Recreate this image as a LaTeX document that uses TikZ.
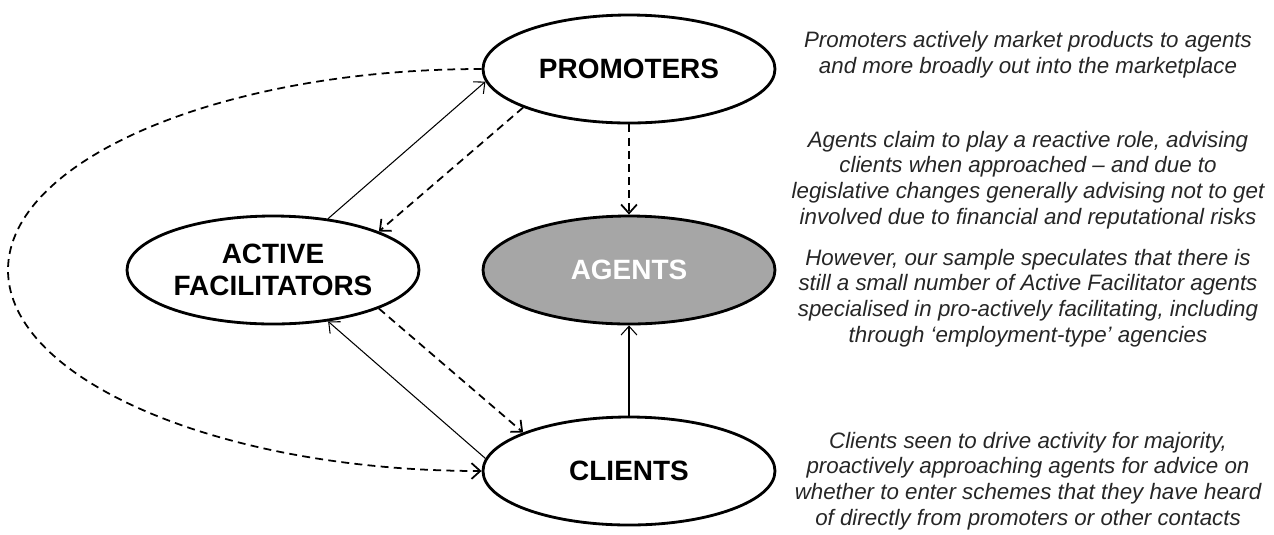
\documentclass[tikz,border=0pt]{standalone}
\usepackage{fontspec}
\setmainfont{Liberation Sans}
\usetikzlibrary{shapes.geometric,arrows.meta}
\definecolor{agentgray}{HTML}{A6A6A6}

\begin{document}
\begin{tikzpicture}[x=0.2mm,y=-0.2mm,
  actor/.style={draw,ellipse,line width=1.6pt,minimum width=5.84cm,minimum height=2.16cm,inner sep=0pt,align=center,font=\fontsize{15.9}{18}\selectfont\bfseries},
  note/.style={align=center,inner sep=0pt,text=black!85,font=\fontsize{12.7}{14.6}\selectfont\itshape},
  flow/.style={-{Straight Barb[length=5pt,width=9pt]},line width=0.6pt},
  hint/.style={flow,line width=1pt,dash pattern=on 4.5pt off 3pt}]
\useasboundingbox (0,0) rectangle (1274,534);
% the four parties
\node[actor] (prom) at (629,69) {PROMOTERS};
\node[actor,fill=agentgray,text=white] (agent) at (629,270) {AGENTS};
\node[actor] (client) at (629,471) {CLIENTS};
\node[actor] (facil) at (273,270) {ACTIVE\\FACILITATORS};
% links between them
\draw[hint] (prom) -- (agent);
\draw[flow] (client) -- (agent);
\draw[flow] (facil.43) -- (prom.185);
\draw[hint] (prom.200) -- (facil.20);
\draw[hint] (facil.-20) -- (client.160);
\draw[flow] (client.175) -- (facil.-43);
% wide loop round the left side
\coordinate (far) at (8,270);
\draw[hint] (prom.west) .. controls (221,69) and (8,160) .. (far) .. controls (8,380) and (221,471) .. (client.west);
% notes on the right
\node[note] (promnote) at (1028,55) {Promoters actively market products to agents\\and more broadly out into the marketplace};
\node[note] (agentnote) at (1028,180) {Agents claim to play a reactive role, advising\\clients when approached -- and due to\\legislative changes generally advising not to get\\involved due to financial and reputational risks};
\node[note] (facilnote) at (1028,298) {However, our sample speculates that there is\\still a small number of Active Facilitator agents\\specialised in pro-actively facilitating, including\\through ‘employment-type’ agencies};
\node[note] (clientnote) at (1028,481) {Clients seen to drive activity for majority,\\proactively approaching agents for advice on\\whether to enter schemes that they have heard\\of directly from promoters or other contacts};
\end{tikzpicture}
\end{document}
